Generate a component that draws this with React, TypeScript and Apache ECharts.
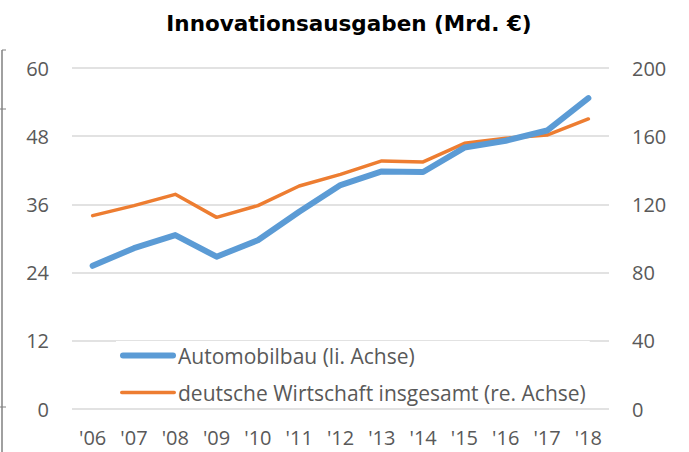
import React, { useEffect, useRef } from "react";
import * as echarts from "echarts";

const years = ["'06", "'07", "'08", "'09", "'10", "'11", "'12", "'13", "'14", "'15", "'16", "'17", "'18"];
const automobilbau = [25.2, 28.3, 30.6, 26.8, 29.7, 34.7, 39.4, 41.8, 41.7, 46.0, 47.2, 49.0, 54.7];
const wirtschaft = [113.4, 119.3, 125.9, 112.4, 119.3, 130.8, 137.6, 145.5, 144.9, 155.8, 158.8, 160.7, 170.1];
const titleText = "Innovationsausgaben (Mrd. €)";
const nameAuto = "Automobilbau (li. Achse)";
const nameWirt = "deutsche Wirtschaft insgesamt (re. Achse)";

const FONT = "Open Sans";

export default function App() {
  const ref = useRef<HTMLDivElement>(null);
  useEffect(() => {
    if (!ref.current) return;
    const chart = echarts.init(ref.current, undefined, { renderer: "svg" });
    chart.setOption({
      animation: false,
      backgroundColor: "#ffffff",
      title: {
        text: titleText,
        left: 344,
        textAlign: "center",
        top: 7,
        textStyle: { fontFamily: "DejaVu Sans", fontWeight: "bold", fontSize: 21.5, color: "#000000" },
      },
      legend: {
        orient: "vertical",
        left: 116,
        top: 341,
        itemWidth: 56,
        itemHeight: 12,
        itemGap: 16,
        backgroundColor: "#ffffff",
        padding: [4, 4, 4, 4],
        textStyle: { fontFamily: FONT, fontSize: 21, color: "#595959", padding: [0, 0, 0, -3] },
        data: [
          { name: nameAuto, icon: "path://M3,0 L53,0 A3,3 0 0 1 53,6 L3,6 A3,3 0 0 1 3,0 Z" },
          { name: nameWirt, icon: "path://M1.75,0 L54.25,0 A1.75,1.75 0 0 1 54.25,3.5 L1.75,3.5 A1.75,1.75 0 0 1 1.75,0 Z" },
        ],
      },
      grid: { left: 72, right: 80, top: 68, bottom: 43, containLabel: false },
      xAxis: {
        type: "category",
        data: years,
        boundaryGap: true,
        axisLine: { show: false },
        axisTick: { show: false },
        axisLabel: { fontFamily: FONT, fontSize: 20, color: "#595959", margin: 18 },
      },
      yAxis: [
        {
          type: "value",
          min: 0,
          max: 60,
          interval: 12,
          axisLine: { show: false },
          axisTick: { show: false },
          axisLabel: { fontFamily: FONT, fontSize: 20, color: "#595959", margin: 23 },
          splitLine: { lineStyle: { color: "#d9d9d9", width: 1.5 } },
        },
        {
          type: "value",
          min: 0,
          max: 200,
          interval: 40,
          axisLine: { show: false },
          axisTick: { show: false },
          axisLabel: { fontFamily: FONT, fontSize: 20, color: "#595959", margin: 23 },
          splitLine: { show: false },
        },
      ],
      series: [
        {
          name: nameWirt,
          type: "line",
          yAxisIndex: 1,
          data: wirtschaft,
          symbol: "none",
          lineStyle: { color: "#ed7d31", width: 3.5, cap: "round", join: "round" },
          itemStyle: { color: "#ed7d31" },
          z: 2,
        },
        {
          name: nameAuto,
          type: "line",
          yAxisIndex: 0,
          data: automobilbau,
          symbol: "none",
          lineStyle: { color: "#5b9bd5", width: 6, cap: "round", join: "round" },
          itemStyle: { color: "#5b9bd5" },
          z: 3,
        },
      ],
      graphic: [
        { type: "line", shape: { x1: 2, y1: 50, x2: 2, y2: 452 }, style: { stroke: "#808080", lineWidth: 1.5 } },
        { type: "line", shape: { x1: 2, y1: 50, x2: 6, y2: 50 }, style: { stroke: "#808080", lineWidth: 1 } },
        { type: "line", shape: { x1: 0, y1: 109, x2: 6, y2: 109 }, style: { stroke: "#808080", lineWidth: 1 } },
        { type: "line", shape: { x1: 0, y1: 407, x2: 6, y2: 407 }, style: { stroke: "#808080", lineWidth: 1 } },
      ],
    });
    return () => chart.dispose();
  }, []);
  return <div ref={ref} style={{ width: 689, height: 452, position: "absolute", left: 0, top: 0 }} />;
}
